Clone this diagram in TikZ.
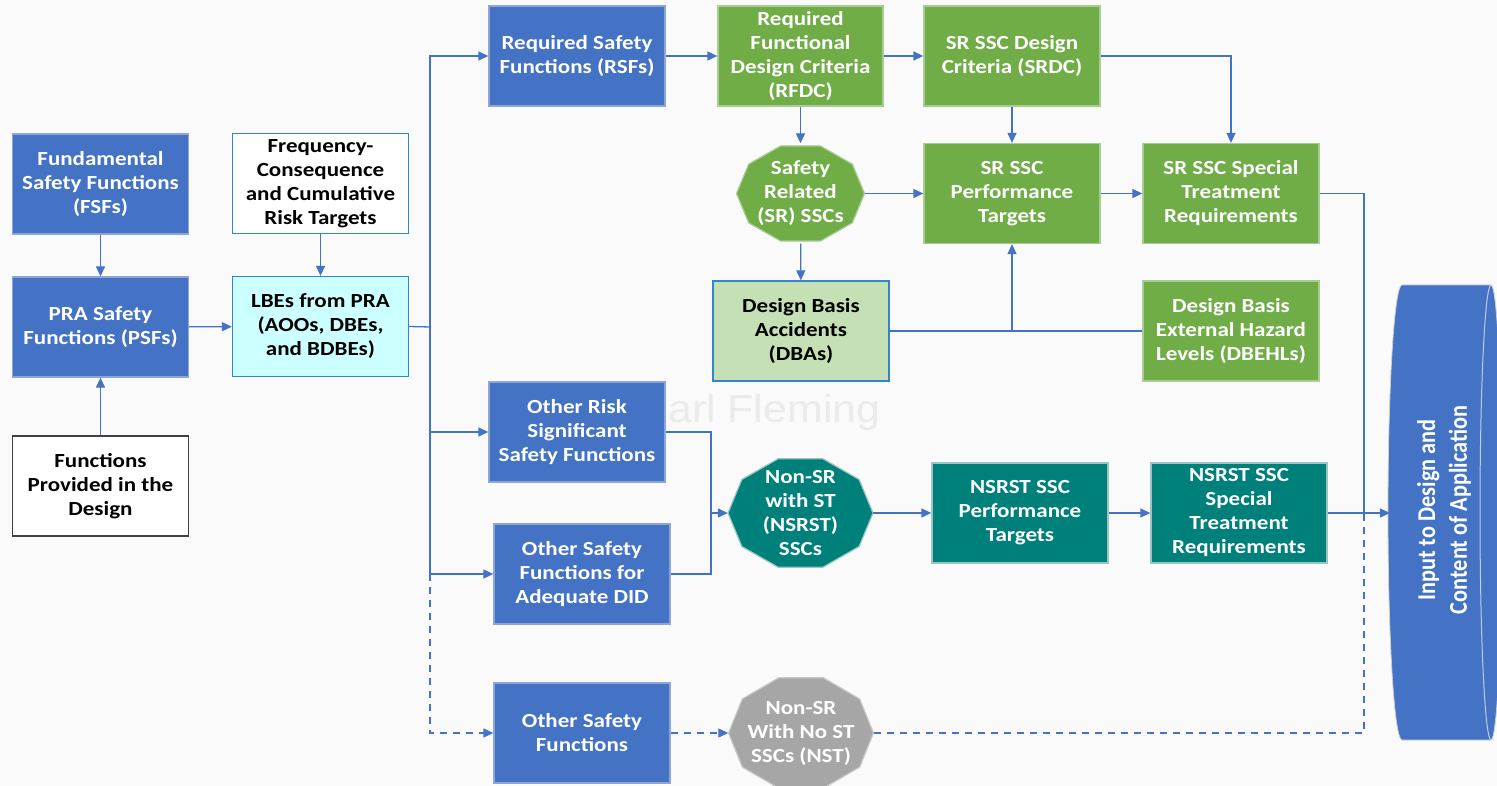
\documentclass[tikz,border=0pt]{standalone}
\usepackage{fontspec}
\setmainfont{Carlito}[FakeStretch=1.15]
\newfontfamily\plainfont{Carlito}
\newfontfamily\wmfont{Liberation Sans}[FakeStretch=1.1]
\usetikzlibrary{arrows.meta,backgrounds}

\definecolor{bgcol}{HTML}{FAFAFA}
\definecolor{fsblue}{HTML}{4472C4}
\definecolor{fsblueedge}{HTML}{8EA6D6}
\definecolor{srgreen}{HTML}{70AD47}
\definecolor{srgreenedge}{HTML}{A9CB95}
\definecolor{nsteal}{HTML}{00807B}
\definecolor{nstealedge}{HTML}{9CC5C2}
\definecolor{nstgray}{HTML}{A6A6A6}
\definecolor{nstgrayedge}{HTML}{C9C9C9}
\definecolor{dbafill}{HTML}{C5E0B4}
\definecolor{frameblue}{HTML}{2E86D0}
\definecolor{lbefill}{HTML}{CCFFFF}
\definecolor{linkblue}{HTML}{4472C4}

\begin{document}
\begin{tikzpicture}[x=1pt,y=-1pt,
  box/.style={draw, line width=1.3pt, minimum width=176pt, minimum height=100pt,
    inner sep=0pt, align=center, font=\fontsize{20}{24}\selectfont\bfseries},
  bluebox/.style={box, fill=fsblue, draw=fsblueedge, text=white},
  greenbox/.style={box, fill=srgreen, draw=srgreenedge, text=white},
  tealbox/.style={box, fill=nsteal, draw=nstealedge, text=white},
  whitebox/.style={box, fill=white, text=black},
  decanode/.style={inner sep=0pt, align=center, text=white,
    font=\fontsize{20}{24}\selectfont\bfseries},
  link/.style={draw=linkblue, line width=1.3pt},
  arrow/.style={link, -{Triangle[length=10pt,width=9pt]}},
  dashlink/.style={link, dash pattern=on 7pt off 6pt},
  dasharrow/.style={arrow, dash pattern=on 7pt off 6pt}]

% canvas size
\useasboundingbox (0,0) rectangle (1497,786);

% faint watermark
\node[text=black!8, font=\wmfont\fontsize{39}{39}\selectfont] (wm) at (760,412) {Karl Fleming};

% left column
\node[bluebox] (fsf) at (100.5,184) {Fundamental\\Safety Functions\\(FSFs)};
\node[bluebox] (psf) at (100.5,327) {PRA Safety\\Functions (PSFs)};
\node[whitebox, draw=black!75] (fn) at (100.5,486) {Functions\\Provided in the\\Design};

% risk targets and LBEs
\node[whitebox, draw=frameblue] (freq) at (320.5,183.5) {Frequency-\\Consequence\\and Cumulative\\Risk Targets};
\node[box, fill=lbefill, draw=frameblue] (lbe) at (320.5,326.5) {LBEs from PRA\\(AOOs, DBEs,\\and BDBEs)};

% safety function boxes
\node[bluebox] (rsf) at (577,56) {Required Safety\\Functions (RSFs)};
\node[bluebox] (ors) at (577,432) {Other Risk\\Significant\\Safety Functions};
\node[bluebox] (odid) at (582,574) {Other Safety\\Functions for\\Adequate DID};
\node[bluebox] (osf) at (582,733) {Other Safety\\Functions};

% safety related branch
\node[greenbox, minimum width=165pt] (rfdc) at (800.5,56) {Required\\Functional\\Design Criteria\\(RFDC)};
\node[greenbox] (srdc) at (1012,56) {SR SSC Design\\Criteria (SRDC)};
\node[decanode, minimum width=128pt, minimum height=100pt] (sr) at (800.5,193.5) {Safety\\Related\\(SR) SSCs};
\node[greenbox] (srperf) at (1012,193.5) {SR SSC\\Performance\\Targets};
\node[greenbox] (srspec) at (1231,193.5) {SR SSC Special\\Treatment\\Requirements};
\node[box, fill=dbafill, draw=frameblue, text=black] (dba) at (801,331) {Design Basis\\Accidents\\(DBAs)};
\node[greenbox] (dbehl) at (1231,331) {Design Basis\\External Hazard\\Levels (DBEHLs)};

% non-safety related with special treatment
\node[decanode, minimum width=145pt, minimum height=114pt] (nsrst) at (800.5,513) {Non-SR\\with ST\\(NSRST)\\SSCs};
\node[tealbox] (nsp) at (1020,513) {NSRST SSC\\Performance\\Targets};
\node[tealbox] (nss) at (1239,513) {NSRST SSC\\Special\\Treatment\\Requirements};

% non-safety related, no special treatment
\node[decanode, minimum width=145pt, minimum height=116pt] (nst) at (801,733) {Non-SR\\With No ST\\SSCs (NST)};

% page colour and the decagon outlines behind the SSC nodes
\begin{scope}[on background layer]
  \fill[bgcol] (0,0) rectangle (1497,786);
  \foreach \n/\rx/\ry/\fc/\ec in {sr/64/50/srgreen/srgreenedge,
      nsrst/72.5/57/nsteal/nstealedge, nst/72.5/58/nstgray/nstgrayedge}{
    \begin{scope}[shift={(\n.center)}]
      \filldraw[fill=\fc, draw=\ec, line width=1.2pt]
        plot[samples at={0,36,...,324}] ({\rx*cos(\x)},{\ry*sin(\x)}) -- cycle;
    \end{scope}
  }
\end{scope}

% output block
\fill[fsblue, draw=black!20, line width=0.8pt] (1402,285) -- (1491,285)
  arc[start angle=90, end angle=-90, x radius=11pt, y radius=227.5pt]
  -- (1402,740)
  arc[start angle=270, end angle=90, x radius=14pt, y radius=227.5pt] -- cycle;
\draw[white!65!fsblue, line width=1pt] (1491,285)
  arc[start angle=90, end angle=270, x radius=11pt, y radius=227.5pt];
\begin{scope}[shift={(1444,510)}, xscale=1.15]
  \node[rotate=90, transform shape, text=white, align=center,
    font=\plainfont\fontsize{22.3}{27.5}\selectfont\bfseries] (inp)
    {Input to Design and\\Content of Application};
\end{scope}
\coordinate (inpt) at (1390,513);

% connectors: left part
\draw[arrow] (fsf) -- (psf);
\draw[arrow] (fn) -- (psf);
\draw[arrow] (psf) -- (lbe);
\draw[arrow] (freq) -- (lbe);

% LBE distribution trunk
\coordinate (trunk) at (430,327);
\coordinate (trunklow) at (430,574);
\draw[link] (lbe.east) -- (trunk);
\draw[arrow] (trunk) |- (rsf.west);
\draw[arrow] (trunk) |- (ors.west);
\draw[arrow] (trunk) |- (odid.west);
\draw[dasharrow] (trunklow) |- (osf.west);

% safety related chain
\draw[arrow] (rsf) -- (rfdc);
\draw[arrow] (rfdc) -- (srdc);
\draw[arrow] (rfdc) -- (sr);
\draw[arrow] (srdc) -- (srperf);
\draw[arrow] (srdc.east) -| (srspec.north);
\draw[arrow] (sr) -- (srperf);
\draw[arrow] (srperf) -- (srspec);
\draw[arrow] (sr) -- (dba);
\draw[link] (dba.east) -- (dbehl.west);
\draw[arrow] (dba.east -| srperf.south) -- (srperf.south);

% merge into the output block
\coordinate (merge) at (1364,513);
\draw[link] (srspec.east) -| (merge);
\draw[arrow] (nss.east) -- (inpt);
\draw[dashlink] (nst.east) -| (merge);

% non-safety related chain
\coordinate (nsjoin) at (711,513);
\draw[link] (ors.east) -| (nsjoin);
\draw[link] (odid.east) -| (nsjoin);
\draw[arrow] (nsjoin) -- (nsrst.west);
\draw[arrow] (nsrst) -- (nsp);
\draw[arrow] (nsp) -- (nss);
\draw[dasharrow] (osf) -- (nst);

\end{tikzpicture}
\end{document}
